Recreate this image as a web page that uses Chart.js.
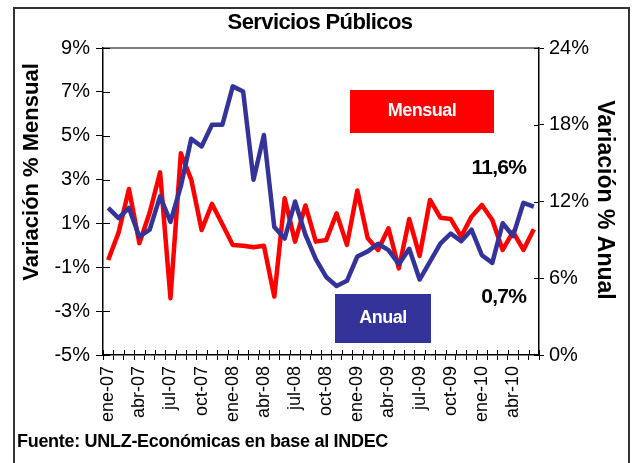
<!DOCTYPE html>
<html>
<head>
<meta charset="utf-8">
<script src="https://cdn.jsdelivr.net/npm/chart.js@4.4.1/dist/chart.umd.min.js"></script>
<style>
html,body{margin:0;padding:0;background:#fff;}
#wrap{position:relative;width:634px;height:463px;}
</style>
</head>
<body>
<div id="wrap"><canvas id="c" width="634" height="463"></canvas></div>
<script>
const months = ['ene-07','feb-07','mar-07','abr-07','may-07','jun-07','jul-07','ago-07','sep-07','oct-07','nov-07','dic-07',
'ene-08','feb-08','mar-08','abr-08','may-08','jun-08','jul-08','ago-08','sep-08','oct-08','nov-08','dic-08',
'ene-09','feb-09','mar-09','abr-09','may-09','jun-09','jul-09','ago-09','sep-09','oct-09','nov-09','dic-09',
'ene-10','feb-10','mar-10','abr-10','may-10','jun-10'];
const mensual = [-0.67,0.58,2.57,0.1,1.5,3.33,-2.41,4.2,3.0,0.7,1.89,0.96,
0.02,-0.02,-0.09,-0.02,-2.34,2.15,0.17,1.82,0.17,0.24,1.46,0.02,
2.5,0.32,-0.21,0.78,-1.05,1.2,-0.48,2.07,1.26,1.2,0.4,1.31,
1.84,1.16,-0.21,0.62,-0.21,0.73];
const anual = [11.5,10.7,11.5,9.25,9.8,12.4,10.4,13.2,16.9,16.3,18.0,18.0,
21.0,20.6,13.7,17.2,10.0,9.1,12.0,9.4,7.5,6.1,5.4,5.8,
7.7,8.1,8.7,8.2,7.1,8.3,5.9,7.3,8.7,9.5,8.9,9.8,
7.8,7.2,10.3,9.3,11.9,11.6];
const leftTicks = {min:-5, max:9, step:2};
const rightTicks = {min:0, max:24, step:6};
const title = 'Servicios Públicos';
const source = 'Fuente: UNLZ-Económicas en base al INDEC';

const FONT = "'Liberation Sans', Arial, sans-serif";

const extras = {
  id:'extras',
  beforeDraw(chart){
    const ctx = chart.ctx, a = chart.chartArea;
    ctx.save();
    ctx.strokeStyle = '#555'; ctx.lineWidth = 1.5;
    ctx.beginPath(); ctx.moveTo(a.left, a.top); ctx.lineTo(a.right, a.top); ctx.stroke();
    ctx.restore();
  },
  afterDraw(chart){
    const ctx = chart.ctx, a = chart.chartArea;
    const sx = chart.scales.x, sy = chart.scales.y, sy1 = chart.scales.y1;
    ctx.save();
    ctx.strokeStyle = '#000'; ctx.lineWidth = 1;
    ctx.beginPath();
    for (let i = 0; i <= months.length; i++) {
      const x = Math.round(sx.getPixelForValue(i - 0.5)) + 0.5;
      ctx.moveTo(x, a.bottom); ctx.lineTo(x, a.bottom - 5);
    }
    for (let v = leftTicks.min; v <= leftTicks.max; v += leftTicks.step) {
      const y = Math.round(sy.getPixelForValue(v)) + 0.5;
      ctx.moveTo(a.left, y); ctx.lineTo(a.left + 7, y);
    }
    for (let v = rightTicks.min; v <= rightTicks.max; v += rightTicks.step) {
      const y = Math.round(sy1.getPixelForValue(v)) + 0.5;
      ctx.moveTo(a.right, y); ctx.lineTo(a.right - 5, y);
    }
    ctx.stroke();

    ctx.strokeStyle = '#333'; ctx.lineWidth = 2;
    ctx.strokeRect(14, 8, 615, 470);

    ctx.fillStyle = '#000';
    ctx.textAlign = 'center'; ctx.textBaseline = 'middle';
    ctx.letterSpacing = '-0.6px';
    ctx.font = 'bold 22px ' + FONT;
    ctx.fillText(title, 320, 23);

    ctx.letterSpacing = '0px';
    ctx.font = 'bold 22px ' + FONT;
    ctx.save(); ctx.translate(32, 172); ctx.rotate(-Math.PI/2);
    ctx.fillText('Variación % Mensual', 0, 0); ctx.restore();
    ctx.font = 'bold 23px ' + FONT;
    ctx.save(); ctx.translate(604, 200); ctx.rotate(Math.PI/2);
    ctx.fillText('Variación % Anual', 0, 0); ctx.restore();

    ctx.fillStyle = '#FF0000'; ctx.fillRect(350, 90, 144, 43);
    ctx.fillStyle = '#333399'; ctx.fillRect(335, 294, 96, 49);
    ctx.fillStyle = '#fff'; ctx.font = 'bold 18px ' + FONT;
    ctx.letterSpacing = '-0.5px';
    ctx.fillText('Mensual', 422, 111.5);
    ctx.fillText('Anual', 383, 318.5);

    ctx.fillStyle = '#000'; ctx.font = 'bold 21px ' + FONT;
    ctx.letterSpacing = '-0.8px';
    ctx.textAlign = 'right';
    ctx.fillText(anual[anual.length-1].toFixed(1).replace('.', ',') + '%', 526, 168);
    ctx.fillText(mensual[mensual.length-1].toFixed(1).replace('.', ',') + '%', 526, 297);

    ctx.textAlign = 'left';
    ctx.font = 'bold 18px ' + FONT;
    ctx.letterSpacing = '-0.3px';
    ctx.fillText(source, 17, 442);
    ctx.restore();
  }
};

new Chart(document.getElementById('c'), {
  type: 'line',
  data: {
    labels: months,
    datasets: [
      {label:'Mensual', data: mensual, yAxisID:'y', borderColor:'#FF0000', borderWidth:4.5, pointRadius:0, tension:0, order:1, borderJoinStyle:'round'},
      {label:'Anual', data: anual, yAxisID:'y1', borderColor:'#333399', borderWidth:4.5, pointRadius:0, tension:0, order:0, borderJoinStyle:'round'}
    ]
  },
  options: {
    responsive:false, animation:false,
    layout:{padding:{top:48, left:0, right:0, bottom:0}},
    plugins:{legend:{display:false}, tooltip:{enabled:false}, title:{display:false}},
    scales:{
      x:{
        type:'category', offset:true,
        grid:{offset:true, drawOnChartArea:false, drawTicks:true, tickLength:5, color:'#000', lineWidth:1},
        border:{color:'#000', width:1.5},
        ticks:{autoSkip:false, maxRotation:90, minRotation:90, padding:6, color:'#000',
          font:{family:FONT, size:18},
          callback:function(v,i){ return i % 3 === 0 ? months[i] : ''; }},
        afterFit(s){ s.height = 108; }
      },
      y:{
        position:'left', min:leftTicks.min, max:leftTicks.max,
        grid:{drawOnChartArea:false, tickLength:7, color:'#000'},
        border:{color:'#000', width:1.5},
        ticks:{stepSize:leftTicks.step, padding:6, color:'#000', font:{family:FONT, size:20},
          callback:v => v + '%'},
        afterFit(s){ s.width = 103; }
      },
      y1:{
        position:'right', min:rightTicks.min, max:rightTicks.max,
        grid:{drawOnChartArea:false, tickLength:5, color:'#000'},
        border:{color:'#000', width:1.5},
        ticks:{stepSize:rightTicks.step, padding:5, color:'#000', font:{family:FONT, size:20},
          callback:v => v + '%'},
        afterFit(s){ s.width = 95; }
      }
    }
  },
  plugins:[extras]
});
</script>
</body>
</html>
